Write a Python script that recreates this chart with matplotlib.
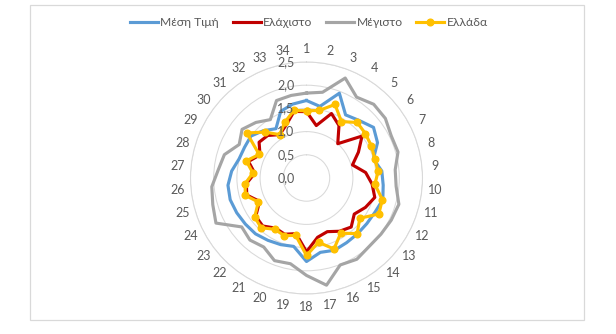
import numpy as np
import matplotlib
matplotlib.use("Agg")
import matplotlib.pyplot as plt
import matplotlib.transforms as mtransforms
from matplotlib.lines import Line2D
from matplotlib.patches import Rectangle

plt.rcParams['font.family'] = ['Lato', 'Noto Sans', 'DejaVu Sans']

categories = [str(i) for i in range(1, 35)]
series_names = ["Μέση Τιμή", "Ελάχιστο", "Μέγιστο", "Ελλάδα"]

mesi = [1.67, 1.57, 1.96, 1.60, 1.68, 1.81, 1.71, 1.50, 1.63, 1.66,
        1.71, 1.65, 1.63, 1.63, 1.64, 1.67, 1.63, 1.80, 1.50, 1.54,
        1.58, 1.63, 1.65, 1.68, 1.71, 1.70, 1.62, 1.51, 1.49, 1.50,
        1.38, 1.25, 1.54, 1.62]
elaxisto = [1.43, 1.15, 1.49, 1.33, 1.00, 1.50, 1.25, 1.03, 1.28, 1.42,
            1.53, 1.42, 1.29, 1.43, 1.35, 1.24, 1.30, 1.59, 1.22, 1.30,
            1.27, 1.40, 1.37, 1.13, 1.34, 1.30, 1.12, 1.30, 1.12, 1.28,
            1.24, 1.10, 1.22, 1.46]
megisto = [1.83, 1.88, 2.31, 2.05, 2.15, 2.13, 2.04, 2.05, 1.92, 1.94,
           2.07, 2.04, 2.01, 2.00, 2.06, 2.01, 2.35, 2.10, 1.88, 1.91,
           1.75, 1.81, 1.75, 2.18, 2.10, 2.05, 1.91, 1.84, 1.62, 1.74,
           1.62, 1.48, 1.79, 1.81]
ellada = [1.45, 1.48, 1.70, 1.43, 1.62, 1.59, 1.56, 1.53, 1.55, 1.48,
          1.70, 1.74, 1.44, 1.62, 1.40, 1.64, 1.41, 1.67, 1.26, 1.33,
          1.30, 1.45, 1.40, 1.16, 1.37, 1.33, 1.16, 1.35, 1.14, 1.61,
          1.34, 1.10, 1.29, 1.48]

r_ticks = [0.0, 0.5, 1.0, 1.5, 2.0, 2.5]
r_tick_labels = ["0,0", "0,5", "1,0", "1,5", "2,0", "2,5"]

colors = ["#5B9BD5", "#C00000", "#A5A5A5", "#FFC000"]
text_color = "#595959"
grid_color = "#D9D9D9"

W, H = 616, 334
fig = plt.figure(figsize=(W / 100, H / 100), dpi=100)

# chart frame
fig.patches.append(Rectangle((30 / W, (H - 320) / H), (584 - 30) / W, (320 - 5) / H,
                             transform=fig.transFigure, fill=False,
                             edgecolor=grid_color, linewidth=0.9))

cx, cy, R = 306.5, 178.0, 116.0
ax = fig.add_axes([(cx - R) / W, (H - cy - R) / H, 2 * R / W, 2 * R / H],
                  projection='polar')
ax.set_theta_zero_location('N')
ax.set_theta_direction(-1)

n = len(categories)
angles = np.arange(n) * 2 * np.pi / n
ang_closed = np.concatenate([angles, angles[:1]])

def closed(v):
    return np.concatenate([v, v[:1]])

data = [mesi, elaxisto, megisto, ellada]
for i, (name, vals) in enumerate(zip(series_names, data)):
    if i == 3:
        ax.plot(ang_closed, closed(np.array(vals)), color=colors[i], linewidth=2.25,
                marker='o', markersize=4.8, markeredgecolor=colors[i], label=name,
                zorder=5 + i, clip_on=False)
    else:
        ax.plot(ang_closed, closed(np.array(vals)), color=colors[i], linewidth=2.25,
                label=name, zorder=5 + i, clip_on=False)

ax.set_ylim(0, 2.5)
ax.set_yticks(r_ticks)
ax.set_yticklabels([])
ax.yaxis.grid(True, color=grid_color, linewidth=0.75)
ax.xaxis.grid(False)
ax.spines['polar'].set_color(grid_color)
ax.spines['polar'].set_linewidth(0.75)
ax.set_xticks(angles)
ax.set_xticklabels(categories, color=text_color, fontsize=9)
ax.tick_params(axis='x', pad=2.5, length=0)
ax.set_facecolor('none')

off = mtransforms.offset_copy(ax.transData, fig=fig, x=-12, y=0, units='dots')
for r, lab in zip(r_ticks, r_tick_labels):
    ax.text(0, r, lab, transform=off, ha='right', va='center', color=text_color,
            fontsize=9, zorder=20)

handles = [Line2D([0], [0], color=colors[0], linewidth=2.25),
           Line2D([0], [0], color=colors[1], linewidth=2.25),
           Line2D([0], [0], color=colors[2], linewidth=2.25),
           Line2D([0], [0], color=colors[3], linewidth=2.25, marker='o',
                  markersize=4.8)]
leg = fig.legend(handles, series_names, loc='center', bbox_to_anchor=(309 / W, 1 - 23 / H),
                 ncol=4, frameon=False, fontsize=8.7, handlelength=2.3,
                 handletextpad=0.2, columnspacing=1.15, labelcolor=text_color)

fig.savefig("out.png", dpi=100)
